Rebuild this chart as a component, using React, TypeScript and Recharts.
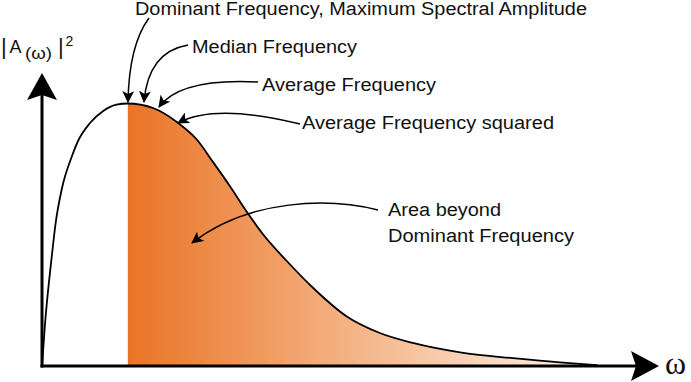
import { ComposedChart, Area, Line, XAxis, YAxis, ReferenceLine } from 'recharts';

// spectrum (frequency 0-100, amplitude 0-90)
const freq = [0, 0.5, 1.6, 2.3, 3.3, 5, 6, 8, 10.2, 12.4, 14.3, 18.5, 22.7, 25.8, 28.5, 31.3, 34.1, 36.8, 40.8, 45.2, 50.8, 56.3, 61.8, 70.2, 78.5, 86.8, 92.5];
const amp = [0, 14, 36, 48, 59, 70, 75, 81, 85, 87.1, 87.5, 86, 81, 75.5, 68, 60, 51.5, 44, 35, 26, 16.5, 11, 7.7, 4.4, 2.6, 1.1, 0.3];
const dominantFreq = 14.3;

const data = freq.map((f, i) => ({
  freq: f,
  amp: amp[i],
  beyond: f >= dominantFreq ? amp[i] : null,
}));

const font = '"Liberation Sans", Arial, sans-serif';

// annotations: text, left x, baseline y, width
const labels = [
  { text: 'Dominant Frequency, Maximum Spectral Amplitude', x: 135, y: 15, w: 452 },
  { text: 'Median Frequency', x: 192, y: 52.5, w: 165 },
  { text: 'Average Frequency', x: 262, y: 90.5, w: 174 },
  { text: 'Average Frequency squared', x: 302, y: 128.5, w: 252 },
  { text: 'Area beyond', x: 388, y: 216, w: 113 },
  { text: 'Dominant Frequency', x: 388, y: 242, w: 186 },
];

const pointers = [
  'M149,18 Q129,45 128,102',
  'M188,45 Q148,52 144,102',
  'M258,82 Q180,78 159,107',
  'M300,124 Q215,103 178,123',
  'M378,210 C330,198 250,198 192,243',
];

function Overlay() {
  return (
    <svg width={691} height={382} style={{ position: 'absolute', left: 0, top: 0, pointerEvents: 'none' }}>
      <defs>
        <marker id="head" markerUnits="userSpaceOnUse" markerWidth={12} markerHeight={12} viewBox="0 0 12 12" refX={11} refY={6} orient="auto">
          <path d="M0,0 L12,6 L0,12 L3,6 Z" fill="#000" />
        </marker>
      </defs>
      {/* axis arrow heads */}
      <path d="M42,73 L57,100 L42,95 L27,100 Z" fill="#000" />
      <path d="M659,366 L631,351 L636,366 L631,381 Z" fill="#000" />
      {pointers.map((d, i) => (
        <path key={i} d={d} fill="none" stroke="#000" strokeWidth={1.5} markerEnd="url(#head)" />
      ))}
      {labels.map((l) => (
        <text key={l.text} x={l.x} y={l.y} fontFamily={font} fontSize={18} textLength={l.w} lengthAdjust="spacingAndGlyphs" fill="#111">
          {l.text}
        </text>
      ))}
      <g fontFamily={font} fill="#111">
        <text x={1} y={54} fontSize={22} fontWeight={300}>|</text>
        <text x={9.5} y={53.3} fontSize={18} textLength={12} lengthAdjust="spacingAndGlyphs">A</text>
        <text x={25} y={59} fontSize={17} textLength={27} lengthAdjust="spacingAndGlyphs">(ω)</text>
        <text x={58} y={54} fontSize={22}>|</text>
        <text x={65.5} y={46} fontSize={14}>2</text>
      </g>
      <text x={665} y={374} fontFamily='"Liberation Serif", serif' fontSize={32} fill="#111">ω</text>
    </svg>
  );
}

export default function App() {
  return (
    <div style={{ position: 'relative', width: 691, height: 382, background: '#fff' }}>
      <style>{'body{margin:0}'}</style>
      <ComposedChart width={691} height={382} data={data} margin={{ top: 96, right: 49, bottom: 16, left: 42 }}>
        <defs>
          <linearGradient id="beyondFill" x1="0" y1="0" x2="1" y2="0">
            <stop offset="0%" stopColor="#EA7425" />
            <stop offset="36%" stopColor="#F2A46E" />
            <stop offset="68%" stopColor="#F8CDAE" />
            <stop offset="100%" stopColor="#FEF3EB" />
          </linearGradient>
        </defs>
        <XAxis dataKey="freq" type="number" domain={[0, 100]} hide />
        <YAxis type="number" domain={[0, 90]} hide />
        <Area dataKey="beyond" type="monotone" stroke="none" fill="url(#beyondFill)" fillOpacity={1} isAnimationActive={false} />
        <Line dataKey="amp" type="monotone" stroke="#000" strokeWidth={1.8} dot={false} activeDot={false} isAnimationActive={false} />
        <ReferenceLine y={0} stroke="#000" strokeWidth={3} strokeLinecap="square" />
        <ReferenceLine x={0} stroke="#000" strokeWidth={3} strokeLinecap="square" />
      </ComposedChart>
      <Overlay />
    </div>
  );
}
